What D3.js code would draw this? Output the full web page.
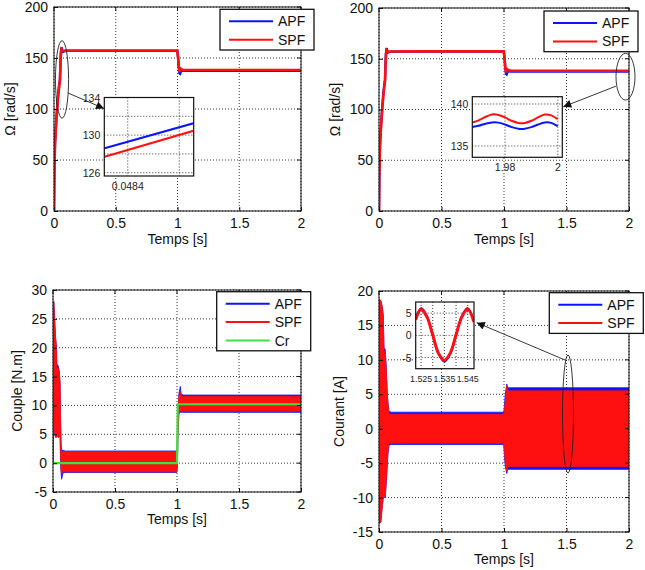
<!DOCTYPE html>
<html><head><meta charset="utf-8">
<script src="https://cdn.jsdelivr.net/npm/d3@7"></script>
<style>
body{margin:0;background:#fff}
svg{display:block}
text{font-family:"Liberation Sans",Arial,Helvetica,sans-serif}
</style>
</head><body>
<svg id="c" width="645" height="570"></svg>
<script>
// ---------------- DATA ----------------
const xTicks = [0, 0.5, 1, 1.5, 2];
const xTickLabels = ["0", "0.5", "1", "1.5", "2"];
const speedTicks = [0, 50, 100, 150, 200];
const torqueTicks = [-5, 0, 5, 10, 15, 20, 25, 30];
const currentTicks = [-15, -10, -5, 0, 5, 10, 15, 20];
const legendNames = ["APF", "SPF", "Cr"];
const axisLabels = ["Ω [rad/s]", "Couple [N.m]", "Courant [A]", "Temps [s]"];

// Speed (rad/s)
const speedT   = [0, 0.003, 0.008, 0.014, 0.02, 0.027, 0.035, 0.042, 0.0484, 0.052, 0.056, 0.061, 0.066, 0.072, 0.08, 0.1, 0.3, 0.5, 0.7, 0.9, 0.998, 1.004, 1.01, 1.016, 1.021, 1.027, 1.035, 1.05, 1.2, 1.5, 1.8, 2.0];
const speedApf = [0, 40, 66, 80, 92, 104, 116, 124, 129.3, 145, 156, 160.5, 158, 156, 156.5, 157, 157, 157, 157, 157, 157, 151, 141, 135, 134.5, 136.5, 137.8, 137.5, 137.4, 137.4, 137.4, 137.4];
const speedSpf = [0, 38, 64, 78, 90, 102, 114, 122, 128.4, 143, 154, 158.5, 157.8, 157, 157, 157.2, 157.3, 157.3, 157.3, 157.3, 157.3, 151.5, 142, 137.5, 137.5, 139.5, 138.8, 138.3, 138.2, 138.2, 138.2, 138.2];

// Speed insets
const inset1T   = [0.04831, 0.04866];
const inset1Apf = [128.6, 131.3];
const inset1Spf = [127.7, 130.5];
const inset2T   = [1.9676, 1.970, 1.9725, 1.975, 1.9775, 1.980, 1.9825, 1.985, 1.9875, 1.990, 1.9925, 1.995, 1.9975, 2.000];
const inset2Spf = [137.8, 138.05, 138.45, 138.75, 138.7, 138.4, 138.0, 137.75, 137.75, 138.0, 138.4, 138.75, 138.65, 138.2];
const inset2Apf = [137.25, 137.4, 137.65, 137.8, 137.78, 137.55, 137.25, 137.05, 137.05, 137.25, 137.55, 137.8, 137.75, 137.35];

// Torque (N.m) envelopes of the ripple bands
const torqueT     = [0, 0.002, 0.006, 0.012, 0.02, 0.028, 0.031, 0.04, 0.05, 0.057, 0.061, 0.066, 0.07, 0.08, 0.1, 0.999, 1.003, 1.008, 1.015, 1.022, 1.027, 1.033, 1.05, 2.0];
const torqueSpfHi = [0, 22, 28, 25.5, 22, 20, 16.5, 16.5, 16, 14, 7, 2.5, 2, 2, 2, 2, 4, 9, 11.5, 12, 12.5, 11.6, 11.6, 11.6];
const torqueSpfLo = [0, 7, 8, 5.5, 4.5, 4.5, 5, 4.5, 4.5, 5, 1, -1.5, -1.8, -1.5, -1.5, -1.5, 0, 5.5, 8.5, 9, 9, 9, 9, 9];
const torqueApfHi = [0, 22, 28, 25.5, 22, 20, 17, 17, 16, 14, 7.5, 2.8, 2.3, 2.2, 2.1, 2.1, 3, 8, 12, 12.8, 13.3, 12, 11.8, 11.8];
const torqueApfLo = [0, 7, 8, 5.5, 4.5, 4.5, 5, 4.5, 4.5, 5, 0, -2, -2.8, -1.7, -1.6, -1.6, -0.5, 5, 8.5, 8.8, 8.8, 8.8, 8.8, 8.8];
const crT   = [0, 1.0, 1.006, 2.0];
const crVal = [0, 0, 10.2, 10.2];

// Current (A) envelopes
const currentT     = [0, 0.003, 0.015, 0.028, 0.034, 0.04, 0.05, 0.058, 0.066, 0.072, 0.08, 0.1, 0.998, 1.002, 1.01, 1.022, 1.03, 1.05, 2.0];
const currentSpfHi = [0, 18.8, 18.6, 17.5, 16, 11.5, 11, 8.5, 5, 3.6, 2.1, 2.1, 2.1, 2.5, 4, 6.3, 5.5, 5.5, 5.5];
const currentSpfLo = [0, -13.8, -13.5, -11, -10, -9.9, -9.9, -7.5, -5, -3.2, -2.1, -2.1, -2.1, -3, -5, -6.2, -5.5, -5.5, -5.5];
const currentApfHi = [0, 18.8, 18.6, 17.5, 16.5, 11.8, 11.5, 9, 5.2, 3.8, 2.5, 2.4, 2.4, 3, 5, 6.5, 5.95, 5.95, 5.95];
const currentApfLo = [0, -13.8, -13.5, -11, -10, -9.9, -10, -8, -5.5, -3.6, -2.4, -2.3, -2.3, -3.5, -5.5, -6.5, -5.9, -5.9, -5.9];

// Current inset
const inset4T   = [1.5227, 1.525, 1.5275, 1.530, 1.5325, 1.535, 1.5375, 1.540, 1.5425, 1.545, 1.5477];
const inset4Apf = [3.7, 6.1, 4.3, 0.1, -4.2, -5.9, -4.2, 0.1, 4.3, 6.1, 3.2];
const inset4Spf = [3.5, 5.85, 4.15, 0.1, -4.05, -5.6, -4.0, 0.1, 4.15, 5.85, 3.0];

// ---------------- DRAWING ----------------
const BLUE = "#0a14ff", RED = "#ff1010", GREEN = "#3ee03e";
const svg = d3.select("#c");
svg.append("defs").append("marker")
  .attr("id", "arr").attr("viewBox", "0 0 10 10").attr("refX", 10).attr("refY", 5)
  .attr("markerWidth", 11).attr("markerHeight", 8).attr("markerUnits", "userSpaceOnUse")
  .attr("orient", "auto")
  .append("path").attr("d", "M0,0 L10,5 L0,10 Z").attr("fill", "#111");

const zip = (a, b) => a.map((v, i) => [v, b[i]]);
const zip3 = (a, lo, hi) => a.map((v, i) => [v, lo[i], hi[i]]);
const plain = d => String(d);

function panel(cfg) {
  const g = svg.append("g");
  const x = d3.scaleLinear().domain([0, 2]).range([cfg.left, cfg.right]);
  const y = d3.scaleLinear().domain(cfg.yDomain).range([cfg.bottom, cfg.top]);
  const id = "clip" + cfg.id;
  svg.select("defs").append("clipPath").attr("id", id)
    .append("rect").attr("x", cfg.left).attr("y", cfg.top)
    .attr("width", cfg.right - cfg.left).attr("height", cfg.bottom - cfg.top);
  const grid = g.append("g").attr("stroke", "#222").attr("stroke-width", 0.9).attr("stroke-dasharray", "1,2");
  grid.selectAll(".gx").data(xTicks).join("line")
    .attr("x1", d => x(d)).attr("x2", d => x(d)).attr("y1", cfg.top).attr("y2", cfg.bottom);
  grid.selectAll(".gy").data(cfg.yTicks).join("line")
    .attr("y1", d => y(d)).attr("y2", d => y(d)).attr("x1", cfg.left).attr("x2", cfg.right);
  const data = g.append("g").attr("clip-path", `url(#${id})`);
  cfg.draw(data, x, y);
  g.append("rect").attr("x", cfg.left).attr("y", cfg.top)
    .attr("width", cfg.right - cfg.left).attr("height", cfg.bottom - cfg.top)
    .attr("fill", "none").attr("stroke", "#111").attr("stroke-width", 1);
  const ax = g.append("g").attr("transform", `translate(0,${cfg.bottom})`)
    .call(d3.axisBottom(x).tickValues(xTicks).tickFormat((d, i) => xTickLabels[i])
      .tickSizeInner(-4).tickSizeOuter(0).tickPadding(7));
  const ay = g.append("g").attr("transform", `translate(${cfg.left},0)`)
    .call(d3.axisLeft(y).tickValues(cfg.yTicks).tickFormat(plain)
      .tickSizeInner(-4).tickSizeOuter(0).tickPadding(6));
  [ax, ay].forEach(a => {
    a.select(".domain").remove();
    a.selectAll("text").attr("font-size", 14).attr("fill", "#111")
      .style("font-family", '"Liberation Sans",Arial,sans-serif');
    a.selectAll("line").attr("stroke", "#111");
  });
  g.append("g").selectAll("line").data(xTicks).join("line")
    .attr("x1", d => x(d)).attr("x2", d => x(d)).attr("y1", cfg.top).attr("y2", cfg.top + 4).attr("stroke", "#111");
  g.append("g").selectAll("line").data(cfg.yTicks).join("line")
    .attr("y1", d => y(d)).attr("y2", d => y(d)).attr("x1", cfg.right).attr("x2", cfg.right - 4).attr("stroke", "#111");
  g.append("text").attr("x", (cfg.left + cfg.right) / 2).attr("y", cfg.bottom + cfg.xlabOff)
    .attr("text-anchor", "middle").attr("font-size", 14).attr("fill", "#111").text(axisLabels[3]);
  g.append("text").attr("transform", `translate(${cfg.ylabX},${(cfg.top + cfg.bottom) / 2}) rotate(-90)`)
    .attr("text-anchor", "middle").attr("dominant-baseline", "central")
    .attr("font-size", 14).attr("fill", "#111").text(cfg.ylab);
  return { g, x, y };
}

function lineGen(x, y, curve) {
  return d3.line().x(d => x(d[0])).y(d => y(d[1])).curve(curve || d3.curveLinear);
}
function bandGen(x, y) {
  return d3.area().x(d => x(d[0])).y0(d => y(d[1])).y1(d => y(d[2]));
}

function legend(g, bx, by, items) {
  const h = 22.3 + 18.4 * (items.length - 1);
  const lg = g.append("g");
  lg.append("rect").attr("x", bx).attr("y", by).attr("width", 94).attr("height", h)
    .attr("fill", "#fff").attr("stroke", "#111").attr("stroke-width", 1.3);
  items.forEach((it, i) => {
    const yy = by + 12 + 18.4 * i;
    lg.append("line").attr("x1", bx + 9).attr("x2", bx + 53).attr("y1", yy).attr("y2", yy)
      .attr("stroke", it.color).attr("stroke-width", 2);
    lg.append("text").attr("x", bx + 58).attr("y", yy).attr("dominant-baseline", "central")
      .attr("font-size", 14).attr("fill", "#111").text(it.name);
  });
}

function inset(g, cfg) {
  const x = d3.scaleLinear().domain(cfg.xDomain).range([cfg.x0, cfg.x1]);
  const y = d3.scaleLinear().domain(cfg.yDomain).range([cfg.y1, cfg.y0]);
  const id = "iclip" + cfg.id;
  svg.select("defs").append("clipPath").attr("id", id)
    .append("rect").attr("x", cfg.x0).attr("y", cfg.y0).attr("width", cfg.x1 - cfg.x0).attr("height", cfg.y1 - cfg.y0);
  const ig = g.append("g");
  ig.append("rect").attr("x", cfg.x0).attr("y", cfg.y0).attr("width", cfg.x1 - cfg.x0).attr("height", cfg.y1 - cfg.y0)
    .attr("fill", "#fff");
  const grid = ig.append("g").attr("stroke", "#222").attr("stroke-width", 0.9).attr("stroke-dasharray", "1,2");
  grid.selectAll(".a").data(cfg.xGrid).join("line")
    .attr("x1", d => x(d)).attr("x2", d => x(d)).attr("y1", cfg.y0).attr("y2", cfg.y1);
  grid.selectAll(".b").data(cfg.yGrid).join("line")
    .attr("y1", d => y(d)).attr("y2", d => y(d)).attr("x1", cfg.x0).attr("x2", cfg.x1);
  const dg = ig.append("g").attr("clip-path", `url(#${id})`);
  cfg.draw(dg, x, y);
  ig.append("rect").attr("x", cfg.x0).attr("y", cfg.y0).attr("width", cfg.x1 - cfg.x0).attr("height", cfg.y1 - cfg.y0)
    .attr("fill", "none").attr("stroke", "#111").attr("stroke-width", 1.2);
  ig.selectAll(".yl").data(cfg.yLabels).join("text")
    .attr("x", cfg.x0 - 4).attr("y", d => y(d)).attr("text-anchor", "end").attr("dominant-baseline", "central")
    .attr("font-size", 10.5).attr("fill", "#222").text(plain);
  ig.selectAll(".xl").data(cfg.xLabels).join("text")
    .attr("x", d => x(d)).attr("y", cfg.y1 + 13.5).attr("text-anchor", "middle")
    .attr("font-size", cfg.xFont || 10.5).attr("fill", "#222").text(plain);
}

function annotate(g, x, y, a) {
  g.append("ellipse").attr("cx", x(a.cx)).attr("cy", y(a.cy))
    .attr("rx", Math.abs(x(a.cx + a.rx) - x(a.cx))).attr("ry", Math.abs(y(a.cy + a.ry) - y(a.cy)))
    .attr("fill", "none").attr("stroke", "#222").attr("stroke-width", 0.9);
  g.append("line").attr("x1", x(a.from[0])).attr("y1", y(a.from[1]))
    .attr("x2", x(a.to[0])).attr("y2", y(a.to[1]))
    .attr("stroke", "#222").attr("stroke-width", 0.9).attr("marker-end", "url(#arr)");
}

function drawSpeed(d, x, y) {
  const lg = lineGen(x, y);
  d.append("path").attr("d", lg(zip(speedT, speedApf))).attr("fill", "none").attr("stroke", BLUE).attr("stroke-width", 2.4);
  d.append("path").attr("d", lg(zip(speedT, speedSpf))).attr("fill", "none").attr("stroke", RED).attr("stroke-width", 2.6);
}
const p1 = panel({ id: 1, left: 54, right: 301, top: 7, bottom: 211, yDomain: [0, 200], yTicks: speedTicks,
  ylab: axisLabels[0], ylabX: 10, xlabOff: 33, draw: drawSpeed });
annotate(p1.g, p1.x, p1.y, { cx: 0.065, cy: 129, rx: 0.053, ry: 38, from: [0.113, 115.7], to: [0.405, 100.5] });
inset(p1.g, { id: 1, x0: 104.3, x1: 193.7, y0: 97.5, y1: 176, xDomain: [0.048309, 0.048656], yDomain: [125.65, 134],
  xGrid: [0.0484, 0.0486], yGrid: [126, 128, 130, 132], yLabels: [126, 130, 134], xLabels: [0.0484],
  draw: (d, x, y) => {
    const lg = lineGen(x, y);
    d.append("path").attr("d", lg(zip(inset1T, inset1Apf))).attr("fill", "none").attr("stroke", BLUE).attr("stroke-width", 2);
    d.append("path").attr("d", lg(zip(inset1T, inset1Spf))).attr("fill", "none").attr("stroke", RED).attr("stroke-width", 2);
  } });
legend(p1.g, 220, 9.3, [{ name: legendNames[0], color: BLUE }, { name: legendNames[1], color: RED }]);

const p2 = panel({ id: 2, left: 379, right: 629, top: 8, bottom: 211, yDomain: [0, 200], yTicks: speedTicks,
  ylab: axisLabels[0], ylabX: 335, xlabOff: 33, draw: drawSpeed });
annotate(p2.g, p2.x, p2.y, { cx: 1.972, cy: 132.3, rx: 0.076, ry: 23, from: [1.896, 123], to: [1.474, 102.7] });
inset(p2.g, { id: 2, x0: 472.3, x1: 562.3, y0: 96.7, y1: 157.3, xDomain: [1.9676, 2.0017], yDomain: [133.65, 140.87],
  xGrid: [1.98, 2], yGrid: [135, 140], yLabels: [135, 140], xLabels: [1.98, 2],
  draw: (d, x, y) => {
    const lg = lineGen(x, y, d3.curveCatmullRom);
    d.append("path").attr("d", lg(zip(inset2T, inset2Apf))).attr("fill", "none").attr("stroke", BLUE).attr("stroke-width", 2);
    d.append("path").attr("d", lg(zip(inset2T, inset2Spf))).attr("fill", "none").attr("stroke", RED).attr("stroke-width", 2);
  } });
legend(p2.g, 544, 11, [{ name: legendNames[0], color: BLUE }, { name: legendNames[1], color: RED }]);

const p3 = panel({ id: 3, left: 53, right: 301, top: 290, bottom: 492, yDomain: [-5, 30], yTicks: torqueTicks,
  ylab: axisLabels[1], ylabX: 17, xlabOff: 32, draw: (d, x, y) => {
    const ag = bandGen(x, y);
    d.append("path").attr("d", ag(zip3(torqueT, torqueApfLo, torqueApfHi))).attr("fill", BLUE).attr("stroke", BLUE).attr("stroke-width", 0.8);
    d.append("path").attr("d", ag(zip3(torqueT, torqueSpfLo, torqueSpfHi))).attr("fill", RED).attr("stroke", RED).attr("stroke-width", 0.8);
    d.append("path").attr("d", lineGen(x, y)(zip(crT, crVal))).attr("fill", "none").attr("stroke", GREEN).attr("stroke-width", 2.2);
  } });
legend(p3.g, 216.7, 291.7, [{ name: legendNames[0], color: BLUE }, { name: legendNames[1], color: RED }, { name: legendNames[2], color: GREEN }]);

const p4 = panel({ id: 4, left: 379, right: 629, top: 291, bottom: 532, yDomain: [-15, 20], yTicks: currentTicks,
  ylab: axisLabels[2], ylabX: 339, xlabOff: 32, draw: (d, x, y) => {
    const ag = bandGen(x, y);
    d.append("path").attr("d", ag(zip3(currentT, currentApfLo, currentApfHi))).attr("fill", BLUE).attr("stroke", BLUE).attr("stroke-width", 0.8);
    d.append("path").attr("d", ag(zip3(currentT, currentSpfLo, currentSpfHi))).attr("fill", RED).attr("stroke", RED).attr("stroke-width", 0.8);
  } });
annotate(p4.g, p4.x, p4.y, { cx: 1.512, cy: 2.14, rx: 0.044, ry: 8.57, from: [1.488, 9.98], to: [0.782, 15.4] });
inset(p4.g, { id: 4, x0: 415.7, x1: 474, y0: 302, y1: 368.7, xDomain: [1.5227, 1.5477], yDomain: [-7.5, 7.5],
  xGrid: [1.525, 1.53, 1.535, 1.54, 1.545], yGrid: [-5, 0, 5], yLabels: [-5, 0, 5], xLabels: [1.525, 1.535, 1.545],
  xFont: 8.8,
  draw: (d, x, y) => {
    const lg = lineGen(x, y, d3.curveCatmullRom);
    d.append("path").attr("d", lg(zip(inset4T, inset4Apf))).attr("fill", "none").attr("stroke", BLUE).attr("stroke-width", 2.2);
    d.append("path").attr("d", lg(zip(inset4T, inset4Spf))).attr("fill", "none").attr("stroke", RED).attr("stroke-width", 3);
  } });
legend(p4.g, 549.3, 292.7, [{ name: legendNames[0], color: BLUE }, { name: legendNames[1], color: RED }]);
</script>
</body></html>
